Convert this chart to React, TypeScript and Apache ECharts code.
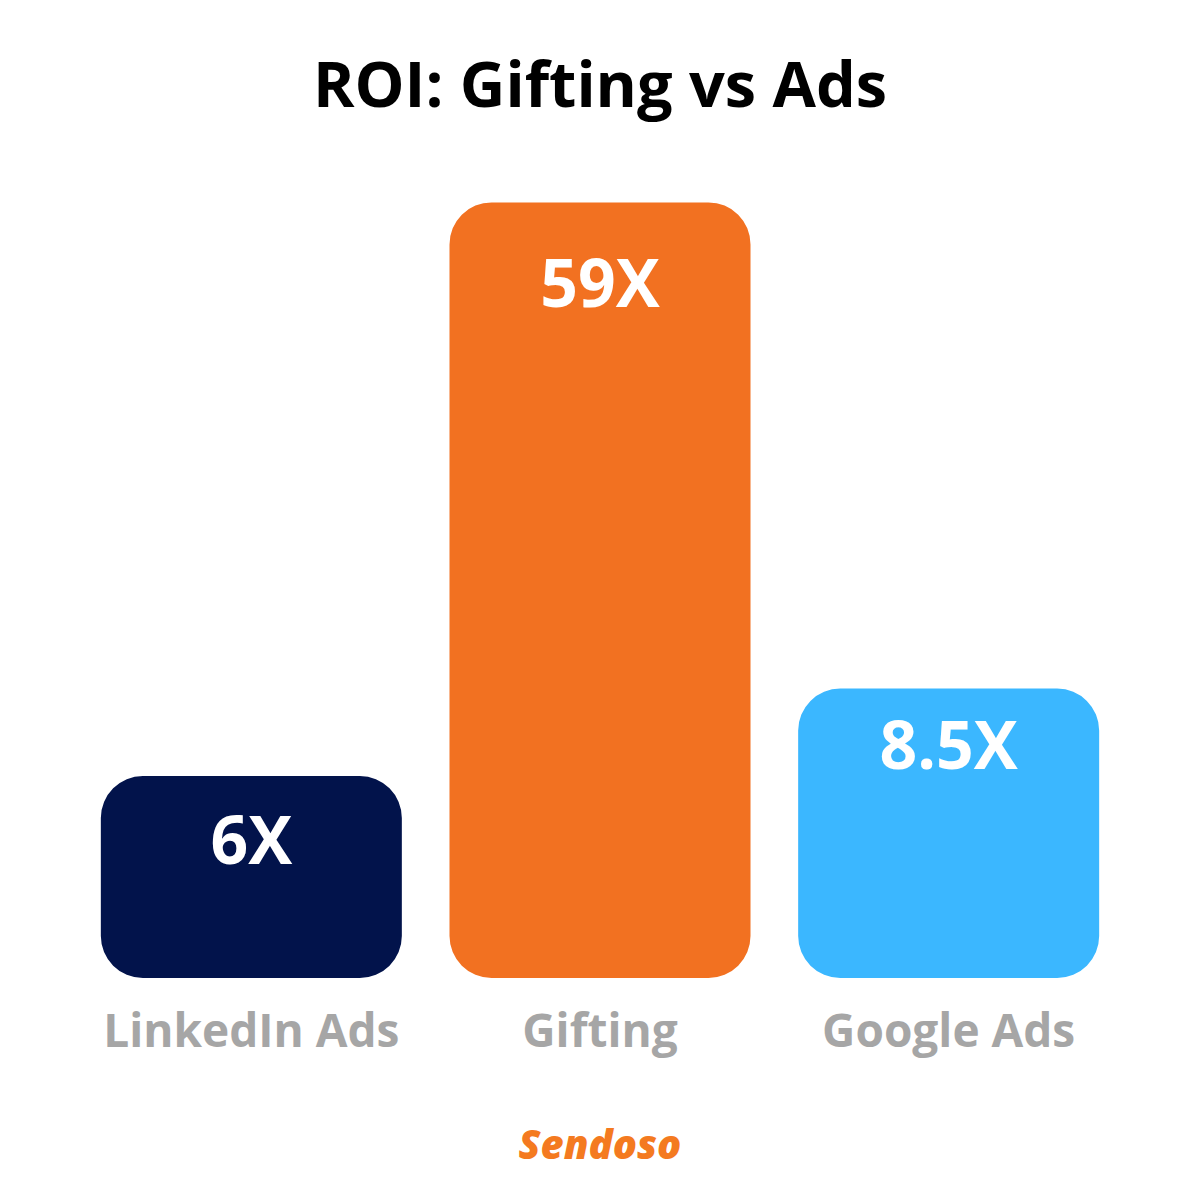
import React, { useEffect, useRef } from "react";
import * as echarts from "echarts";

const categories = ["LinkedIn Ads", "Gifting", "Google Ads"];
const roiValues = [6, 59, 8.5];
const barColors = ["#02134b", "#f27121", "#3bb7ff"];
const labelDistances = [29, 46, 21];
const titleText = "ROI: Gifting vs Ads";
const brandText = "Sendoso";

const AXIS_MIN = 2.683;
const AXIS_MAX = 100;

export default function App() {
  const ref = useRef<HTMLDivElement>(null);
  useEffect(() => {
    if (!ref.current) return;
    const chart = echarts.init(ref.current, null, { renderer: "svg" });
    const font = "'Open Sans', sans-serif";
    chart.setOption({
      animation: false,
      backgroundColor: "#ffffff",
      title: {
        text: titleText,
        left: "center",
        top: 41,
        textStyle: { fontFamily: font, fontWeight: "bold", fontSize: 63, color: "#000000", lineHeight: 72 },
      },
      grid: { left: 77, right: 77, top: 70, bottom: 222, containLabel: false },
      xAxis: {
        type: "category",
        data: categories,
        axisLine: { show: false },
        axisTick: { show: false },
        axisLabel: {
          interval: 0,
          margin: 28,
          fontFamily: font,
          fontWeight: "bold",
          fontSize: 46,
          color: "#a6a6a6",
        },
      },
      yAxis: {
        type: "log",
        min: AXIS_MIN,
        max: AXIS_MAX,
        startValue: AXIS_MIN,
        show: false,
        splitLine: { show: false },
      },
      series: [
        {
          type: "bar",
          barWidth: 301,
          clip: false,
          data: roiValues.map((v, i) => ({
            value: v,
            itemStyle: { color: barColors[i], borderRadius: 42 },
            label: { distance: labelDistances[i] },
          })),
          label: {
            show: true,
            position: "insideTop",
            formatter: (p: any) => `${p.value}X`,
            fontFamily: font,
            fontWeight: "bold",
            fontSize: 66,
            lineHeight: 66,
            color: "#ffffff",
          },
        },
      ],
      graphic: [
        {
          type: "text",
          left: "center",
          top: 1123,
          style: {
            text: brandText,
            fontFamily: font,
            fontStyle: "italic",
            fontWeight: 800,
            fontSize: 40,
            fill: "#f47a20",
          },
        },
      ],
    });
    return () => chart.dispose();
  }, []);
  return <div ref={ref} style={{ position: "fixed", left: 0, top: 0, width: 1200, height: 1200 }} />;
}
